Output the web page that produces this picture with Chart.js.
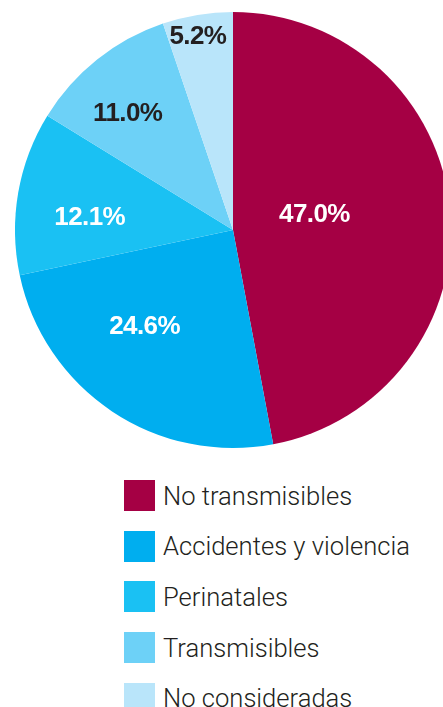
<!DOCTYPE html>
<html>
<head>
<meta charset="utf-8">
<script src="https://cdn.jsdelivr.net/npm/chart.js@4.4.1/dist/chart.umd.min.js"></script>
<style>
  html, body { margin: 0; padding: 0; background: #fff; width: 443px; height: 707px; overflow: hidden; }
  #wrap { position: relative; width: 443px; height: 707px; overflow: hidden; }
  #pie { position: absolute; left: 0; top: 0; }
  #legend { position: absolute; left: 124px; top: 480px; margin: 0; padding: 0; list-style: none; }
  #legend li { display: flex; align-items: center; height: 31px; margin-bottom: 19.7px;
    font-family: Roboto, "Liberation Sans", sans-serif; font-weight: 300; font-size: 25.6px; color: #231f20; white-space: nowrap; }
  #legend .box { display: inline-block; width: 31px; height: 31px; margin-right: 8px; }
</style>
</head>
<body>
<div id="wrap">
  <canvas id="pie" width="466" height="460"></canvas>
  <ul id="legend"></ul>
</div>
<script>
// Causes of death, share in percent
const categories = ['No transmisibles', 'Accidentes y violencia', 'Perinatales', 'Transmisibles', 'No consideradas'];
const shares = [47.0, 24.6, 12.1, 11.0, 5.2];
const sliceColors = ['#a50044', '#00aeef', '#1ac1f3', '#6dd1f7', '#b9e5fa'];
const labelColors = ['#ffffff', '#ffffff', '#ffffff', '#231f20', '#231f20'];

// where each value label sits: [fraction along the arc, fraction of radius]
const labelSpots = [[0.47, 0.38], [0.60, 0.60], [0.39, 0.66], [0.41, 0.72], [0.45, 0.90]];

// percent labels drawn inside slices
const sliceLabels = {
  id: 'sliceLabels',
  afterDatasetsDraw(chart) {
    const ctx = chart.ctx;
    const arcs = chart.getDatasetMeta(0).data;
    ctx.save();
    ctx.font = 'bold 26px "Liberation Sans", Arial, sans-serif';
    ctx.letterSpacing = '-0.6px';
    ctx.textAlign = 'center';
    ctx.textBaseline = 'middle';
    arcs.forEach((arc, i) => {
      const [along, out] = labelSpots[i];
      const a = arc.startAngle + (arc.endAngle - arc.startAngle) * along;
      const r = arc.outerRadius * out;
      ctx.fillStyle = labelColors[i];
      ctx.fillText(shares[i].toFixed(1) + '%', arc.x + Math.cos(a) * r, arc.y + Math.sin(a) * r);
    });
    ctx.restore();
  }
};

new Chart(document.getElementById('pie').getContext('2d'), {
  type: 'pie',
  data: {
    labels: categories,
    datasets: [{
      data: shares,
      backgroundColor: sliceColors,
      borderWidth: 0,
      radius: 218
    }]
  },
  options: {
    responsive: false,
    animation: false,
    layout: { padding: 0 },
    plugins: { legend: { display: false }, tooltip: { enabled: false } }
  },
  plugins: [sliceLabels]
});

document.getElementById('legend').innerHTML = categories.map((c, i) =>
  `<li><span class="box" style="background:${sliceColors[i]};"></span>${c}</li>`
).join('');
</script>
</body>
</html>
